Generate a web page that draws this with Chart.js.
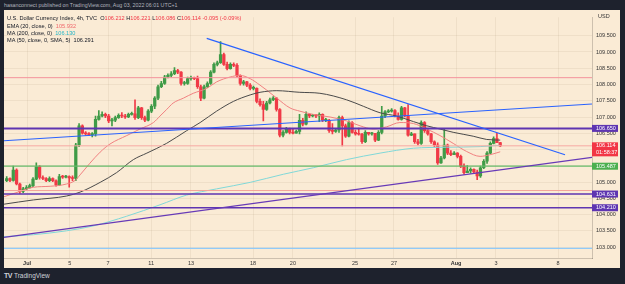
<!DOCTYPE html>
<html>
<head>
<meta charset="utf-8">
<script src="https://cdn.jsdelivr.net/npm/chart.js@4.4.0/dist/chart.umd.min.js"></script>
<style>
    html, body { margin: 0; padding: 0; width: 625px; height: 284px; overflow: hidden; background: #1e222d; font-family: "Liberation Sans", Arial, sans-serif; }
    #wrap { position: absolute; left: 4px; top: 10px; width: 616px; height: 258px; background: #faebd5; }
    #wrap canvas { position: absolute; left: 0; top: 0; }
    .hdr { position: absolute; left: 4px; top: 0; line-height: 10px; font-size: 5.3px; color: #b2b5be; white-space: nowrap; }
    .leg { position: absolute; left: 7px; line-height: 8px; font-size: 5.6px; color: #131722; white-space: nowrap; }
    .r { color: #f23645; }
    .usd { position: absolute; left: 598px; top: 12px; font-size: 5.5px; line-height: 8px; color: #333; }
    .foot { position: absolute; left: 4px; top: 271px; font-size: 6.5px; line-height: 10px; color: #d1d4dc; white-space: nowrap; }
    .foot b { font-size: 7px; letter-spacing: -0.5px; margin-right: 2px; }
</style>
</head>
<body>
<div class="hdr">hasanconnect published on TradingView.com, Aug 03, 2022 06:01 UTC+1</div>
<div id="wrap"><canvas id="myChart" width="616" height="258"></canvas></div>
<div class="leg" style="top:14px">U.S. Dollar Currency Index, 4h, TVC&nbsp; O<span class="r">106.212</span> H<span class="r">106.221</span> L<span class="r">106.086</span> C<span class="r">106.114</span> <span class="r">-0.095 (-0.09%)</span></div>
<div class="leg" style="top:21.5px">EMA (20, close, 0)&nbsp; <span style="color:#f0686c">105.932</span></div>
<div class="leg" style="top:28.5px">MA (200, close, 0)&nbsp; <span style="color:#26b5c6">106.130</span></div>
<div class="leg" style="top:35.5px">MA (50, close, 0, SMA, 5)&nbsp; 106.291</div>
<div class="usd">USD</div>
<div class="foot"><b>TV</b>TradingView</div>

<script>
// 4h candles, Jun 30 -> Aug 3 2022 (index = bar number)
const opens = [
    105.04, 105.11, 105.05, 105.37, 104.94, 104.71, 104.79, 104.83, 104.89, 105.09,
    105.47, 105.14, 105.11, 105.04, 105.11, 105.04, 104.91, 105.17, 105.15, 105.17,
    105.13, 105.11, 106.14, 106.73, 106.50, 106.48, 106.46, 106.48, 106.93, 107.03,
    107.08, 107.03, 106.88, 106.90, 106.98, 107.05, 107.03, 107.00, 107.08, 107.10,
    106.98, 107.28, 106.98, 106.90, 107.18, 107.33, 107.58, 107.93, 108.03, 108.23,
    108.28, 108.33, 108.43, 108.38, 108.03, 108.03, 108.18, 108.20, 108.18, 107.93,
    107.58, 107.93, 108.03, 108.38, 108.62, 108.67, 108.92, 108.62, 108.49, 108.62,
    108.59, 108.28, 108.03, 108.08, 107.98, 107.88, 107.88, 107.48, 107.38, 107.23,
    107.43, 107.53, 107.58, 107.23, 106.44, 106.53, 106.63, 106.53, 106.50, 106.56,
    106.90, 106.78, 107.08, 107.03, 107.05, 107.03, 107.08, 106.90, 106.90, 106.58,
    106.56, 106.60, 106.98, 106.73, 106.41, 106.83, 106.53, 106.48, 106.47, 106.24,
    106.53, 106.48, 106.50, 106.29, 106.53, 107.03, 107.16, 107.18, 107.20, 107.03,
    106.93, 107.28, 107.03, 106.44, 106.48, 106.24, 106.19, 106.83, 106.58, 106.48,
    106.24, 106.14, 105.59, 105.74, 106.14, 105.89, 105.84, 105.89, 105.79, 105.49,
    105.29, 105.34, 105.39, 105.31, 105.19, 105.44, 105.64, 105.89, 106.19, 106.34,
    106.212
];
const highs = [
    105.17, 105.13, 105.49, 105.41, 104.97, 104.84, 104.89, 104.94, 105.14, 105.59,
    105.51, 105.19, 105.14, 105.16, 105.13, 105.07, 105.24, 105.21, 105.21, 105.19,
    105.19, 106.19, 106.80, 106.76, 106.55, 106.52, 106.52, 107.03, 107.20, 107.16,
    107.12, 107.08, 106.96, 107.03, 107.10, 107.14, 107.08, 107.12, 107.15, 107.53,
    107.33, 107.30, 107.03, 107.23, 107.38, 107.63, 107.98, 108.10, 108.28, 108.33,
    108.40, 108.52, 108.47, 108.40, 108.10, 108.23, 108.26, 108.23, 108.26, 107.98,
    107.98, 108.08, 108.43, 108.67, 108.72, 109.32, 108.97, 108.69, 108.67, 108.67,
    108.64, 108.30, 108.13, 108.10, 108.03, 107.95, 107.90, 107.56, 107.48, 107.48,
    107.58, 107.63, 107.60, 107.26, 106.58, 106.68, 106.66, 106.63, 106.60, 107.08,
    106.96, 107.16, 107.10, 107.08, 107.08, 107.13, 107.10, 106.96, 106.93, 106.80,
    106.65, 107.03, 107.03, 106.78, 106.88, 106.86, 106.60, 106.66, 106.50, 106.58,
    106.53, 106.53, 106.50, 106.58, 107.33, 107.20, 107.23, 107.26, 107.23, 107.13,
    107.33, 107.30, 107.38, 106.53, 106.48, 106.31, 106.88, 106.86, 106.65, 106.50,
    106.27, 106.21, 105.79, 106.63, 106.17, 105.97, 105.94, 105.91, 105.83, 105.56,
    105.51, 105.44, 105.41, 105.37, 105.49, 105.69, 105.94, 106.24, 106.39, 106.50,
    106.221
];
const lows = [
    105.01, 105.01, 105.03, 104.91, 104.65, 104.67, 104.75, 104.81, 104.86, 105.07,
    105.09, 105.07, 105.01, 105.01, 105.01, 104.87, 104.89, 105.11, 105.13, 104.84,
    105.04, 105.04, 106.09, 106.47, 106.44, 106.43, 106.39, 106.41, 106.90, 107.00,
    106.98, 106.83, 106.73, 106.86, 106.96, 106.98, 106.96, 106.98, 107.06, 106.93,
    106.95, 106.93, 106.86, 106.88, 107.13, 107.26, 107.53, 107.90, 108.00, 108.20,
    108.23, 108.30, 108.33, 107.98, 107.98, 108.00, 108.13, 108.15, 107.88, 107.50,
    107.56, 107.90, 108.00, 108.36, 108.57, 108.65, 108.59, 108.45, 108.47, 108.55,
    108.23, 107.98, 107.98, 107.93, 107.83, 107.83, 107.43, 107.33, 106.88, 107.20,
    107.40, 107.50, 107.18, 106.39, 106.39, 106.50, 106.48, 106.48, 106.50, 106.48,
    106.73, 106.76, 106.98, 107.00, 106.98, 106.86, 106.86, 106.86, 106.53, 106.48,
    106.53, 106.53, 106.11, 106.37, 106.39, 106.50, 106.44, 106.44, 106.19, 106.21,
    106.44, 106.44, 106.24, 106.27, 106.48, 106.98, 107.13, 107.15, 107.00, 106.90,
    106.90, 107.00, 106.41, 106.43, 106.19, 106.14, 106.16, 106.53, 106.44, 106.19,
    106.09, 105.54, 105.57, 105.71, 105.84, 105.81, 105.84, 105.74, 105.44, 105.24,
    105.29, 105.27, 105.27, 105.07, 105.14, 105.41, 105.57, 105.87, 106.17, 106.21,
    106.086
];
const closes = [
    105.11, 105.05, 105.37, 104.94, 104.71, 104.79, 104.83, 104.89, 105.09, 105.47,
    105.14, 105.11, 105.04, 105.11, 105.04, 104.91, 105.17, 105.15, 105.17, 105.13,
    105.11, 106.14, 106.73, 106.50, 106.48, 106.46, 106.48, 106.93, 107.03, 107.08,
    107.03, 106.88, 106.90, 106.98, 107.05, 107.03, 107.00, 107.08, 107.10, 106.98,
    107.28, 106.98, 106.90, 107.18, 107.33, 107.58, 107.93, 108.03, 108.23, 108.28,
    108.33, 108.43, 108.38, 108.03, 108.03, 108.18, 108.20, 108.18, 107.93, 107.58,
    107.93, 108.03, 108.38, 108.62, 108.67, 108.92, 108.62, 108.49, 108.62, 108.59,
    108.28, 108.03, 108.08, 107.98, 107.88, 107.88, 107.48, 107.38, 107.23, 107.43,
    107.53, 107.58, 107.23, 106.44, 106.53, 106.63, 106.53, 106.50, 106.56, 106.90,
    106.78, 107.08, 107.03, 107.05, 107.03, 107.08, 106.90, 106.90, 106.58, 106.56,
    106.60, 106.98, 106.73, 106.41, 106.83, 106.53, 106.48, 106.47, 106.24, 106.53,
    106.48, 106.50, 106.29, 106.53, 107.03, 107.16, 107.18, 107.20, 107.03, 106.93,
    107.28, 107.03, 106.44, 106.48, 106.24, 106.19, 106.83, 106.58, 106.48, 106.24,
    106.14, 105.59, 105.74, 106.14, 105.89, 105.84, 105.89, 105.79, 105.49, 105.29,
    105.34, 105.39, 105.31, 105.19, 105.44, 105.64, 105.89, 106.19, 106.34, 106.212,
    106.114
];

// indicator lines: [bar, price]
const ema20 = [
    [-0.8, 104.55], [4.0, 104.71], [8.1, 104.84], [13.2, 104.87], [18.2, 104.94], [20.8, 105.05],
    [22.3, 105.22], [25.3, 105.58], [28.4, 105.92], [31.4, 106.17], [36.5, 106.43], [40.5, 106.63],
    [44.6, 106.83], [46.6, 107.03], [48.6, 107.23], [50.6, 107.43], [53.7, 107.58], [56.7, 107.73],
    [60.8, 107.88], [63.8, 108.08], [67.9, 108.23], [70.9, 108.28], [74.0, 108.18], [77.0, 107.98],
    [79.0, 107.83], [82.1, 107.58], [86.1, 107.28], [89.1, 107.18], [93.2, 107.08], [98.3, 107.00],
    [103.3, 106.88], [107.4, 106.73], [111.4, 106.63], [115.5, 106.70], [119.5, 106.83], [123.6, 106.80],
    [127.7, 106.63], [131.7, 106.43], [135.7, 106.19], [139.8, 105.94], [143.9, 105.79], [146.9, 105.84],
    [150, 105.93]
];
const ma200 = [
    [-0.8, 103.32], [8.1, 103.38], [18.2, 103.50], [26.3, 103.65], [36.5, 103.95], [46.6, 104.30],
    [54.7, 104.60], [63.8, 104.79], [74.0, 104.99], [84.1, 105.24], [93.2, 105.44], [103.3, 105.69],
    [113.5, 105.89], [123.6, 106.04], [133.7, 106.07], [143.9, 106.09], [150, 106.13]
];
const ma50 = [
    [-0.8, 104.32], [8.1, 104.45], [18.2, 104.57], [22.3, 104.69], [28.4, 104.99], [33.4, 105.29],
    [38.5, 105.69], [42.6, 105.89], [48.6, 106.19], [54.7, 106.58], [58.8, 106.83], [63.8, 107.18],
    [68.9, 107.48], [74.0, 107.68], [77.0, 107.76], [82.1, 107.81], [89.1, 107.76], [95.2, 107.73],
    [103.3, 107.53], [108.4, 107.33], [113.5, 107.13], [118.5, 107.03], [123.6, 106.86], [127.7, 106.73],
    [131.7, 106.63], [135.7, 106.53], [141.8, 106.41], [145.9, 106.31], [150, 106.29]
];

// drawn trend lines
const blueDown = [[60.8, 109.42], [169.7, 105.84]];
const blueUp = [[-0.82, 106.27], [177.9, 107.40]];
const purpleUp = [[-0.82, 103.30], [177.9, 105.76]];

// horizontal levels
const hLevels = [108.21, 106.65, 106.114, 105.487, 104.74, 104.631, 104.21, 102.96];
const tagValues = [106.650, 106.114, 105.487, 104.631, 104.210];
const countdown = '01:58:37';

// axes
const yTicks = [103.0, 103.5, 104.0, 104.5, 105.0, 105.5, 106.0, 106.5, 107.0, 107.5, 108.0, 108.5, 109.0, 109.5];
const dayTickIdx = [6.2, 19.2, 30.8, 43.9, 56.0, 74.9, 87.0, 105.9, 117.7, 136.6, 148.7, 167.6];
const dayTickLabels = ['Jul', '5', '7', '11', '13', '18', '20', '25', '27', 'Aug', '3', '8'];

const X_MIN = -0.82, X_MAX = 177.9;
const Y_MIN = 102.664, Y_MAX = 110.067;
const UP = '#3f9b47', DOWN = '#f03a47';
const FONT = '"Liberation Sans", Arial, sans-serif';

const candleColors = closes.map((c, i) => c >= opens[i] ? UP : DOWN);

function pts(arr) {
    return arr.map(p => ({ x: p[0], y: p[1] }));
}

function lineSet(data, color, width, order, smooth) {
    return {
        type: 'line',
        data: data,
        borderColor: color,
        borderWidth: width,
        pointRadius: 0,
        fill: false,
        cubicInterpolationMode: smooth ? 'monotone' : 'default',
        tension: 0,
        order: order
    };
}

const levelStyles = [
    ['#f4929c', 1], ['#5e35b1', 2], ['#f6aaa4', 1], ['#66bb6a', 1.2],
    ['#f4a49a', 1], ['#5e35b1', 1.5], ['#5e35b1', 1.5], ['#90caf9', 1.2]
];
const tagColors = ['#5e35b1', '#f23645', '#4caf50', '#5e35b1', '#5e35b1'];

const datasets = [];
hLevels.forEach((v, i) => {
    datasets.push(lineSet([{ x: X_MIN, y: v }, { x: X_MAX, y: v }], levelStyles[i][0], levelStyles[i][1], 2, false));
});
datasets.push(lineSet(pts(blueDown), '#2962ff', 1.2, 1, false));
datasets.push(lineSet(pts(blueUp), '#2962ff', 1.2, 1, false));
datasets.push(lineSet(pts(purpleUp), '#673ab7', 1.2, 1, false));
datasets.push(lineSet(pts(ma200), '#80d8d8', 1, 3, true));
datasets.push(lineSet(pts(ma50), '#4a4a4a', 1, 3, true));
datasets.push(lineSet(pts(ema20), '#f08080', 1, 3, true));

// candle wicks and bodies
datasets.push({
    type: 'bar',
    data: lows.map((l, i) => ({ x: i, y: [l, highs[i]] })),
    backgroundColor: candleColors,
    barThickness: 1,
    grouped: false,
    order: 5
});
datasets.push({
    type: 'bar',
    data: opens.map((o, i) => ({ x: i, y: [o, closes[i]] })),
    backgroundColor: candleColors,
    barThickness: 2.6,
    minBarLength: 1,
    grouped: false,
    order: 4
});

const axisTags = {
    id: 'axisTags',
    afterDraw(chart) {
        const { ctx, chartArea, scales: { y } } = chart;
        ctx.save();
        ctx.font = '5.5px ' + FONT;
        ctx.textBaseline = 'middle';
        ctx.textAlign = 'left';
        tagValues.forEach((v, i) => {
            const py = y.getPixelForValue(v);
            const two = i === 1;
            const h = two ? 14 : 7;
            ctx.fillStyle = tagColors[i];
            ctx.fillRect(chartArea.right, py - 3.5, 26, h);
            ctx.fillStyle = '#ffffff';
            ctx.fillText(v.toFixed(3), chartArea.right + 4, py);
            if (two) ctx.fillText(countdown, chartArea.right + 4, py + 6.5);
        });
        ctx.restore();
    }
};

const ctx = document.getElementById('myChart').getContext('2d');
const myChart = new Chart(ctx, {
    type: 'bar',
    data: { datasets: datasets },
    plugins: [axisTags],
    options: {
        responsive: false,
        animation: false,
        devicePixelRatio: 1,
        layout: { padding: 0 },
        plugins: {
            legend: { display: false },
            tooltip: { enabled: false }
        },
        scales: {
            x: {
                type: 'linear',
                min: X_MIN,
                max: X_MAX,
                offset: false,
                grid: { offset: false, color: 'rgba(110,85,50,0.08)', drawTicks: false },
                border: { color: 'rgba(0,0,0,0.18)' },
                afterBuildTicks: ax => { ax.ticks = dayTickIdx.map(v => ({ value: v })); },
                afterFit: ax => { ax.height = 10; },
                ticks: {
                    autoSkip: false,
                    maxRotation: 0,
                    padding: 2,
                    color: '#333',
                    font: ctx2 => ({
                        family: FONT,
                        size: 5.5,
                        weight: /[A-Za-z]/.test(dayTickLabels[ctx2.index] || '') ? 'bold' : 'normal'
                    }),
                    callback: (v, i) => dayTickLabels[i]
                }
            },
            y: {
                position: 'right',
                min: Y_MIN,
                max: Y_MAX,
                grid: { color: 'rgba(110,85,50,0.08)', drawTicks: false },
                border: { color: 'rgba(0,0,0,0.18)' },
                afterBuildTicks: ax => { ax.ticks = yTicks.map(v => ({ value: v })); },
                afterFit: ax => { ax.width = 28; },
                ticks: {
                    padding: 4,
                    color: '#333',
                    font: { family: FONT, size: 5.5 },
                    callback: v => v.toFixed(3)
                }
            }
        }
    }
});
</script>
</body>
</html>
